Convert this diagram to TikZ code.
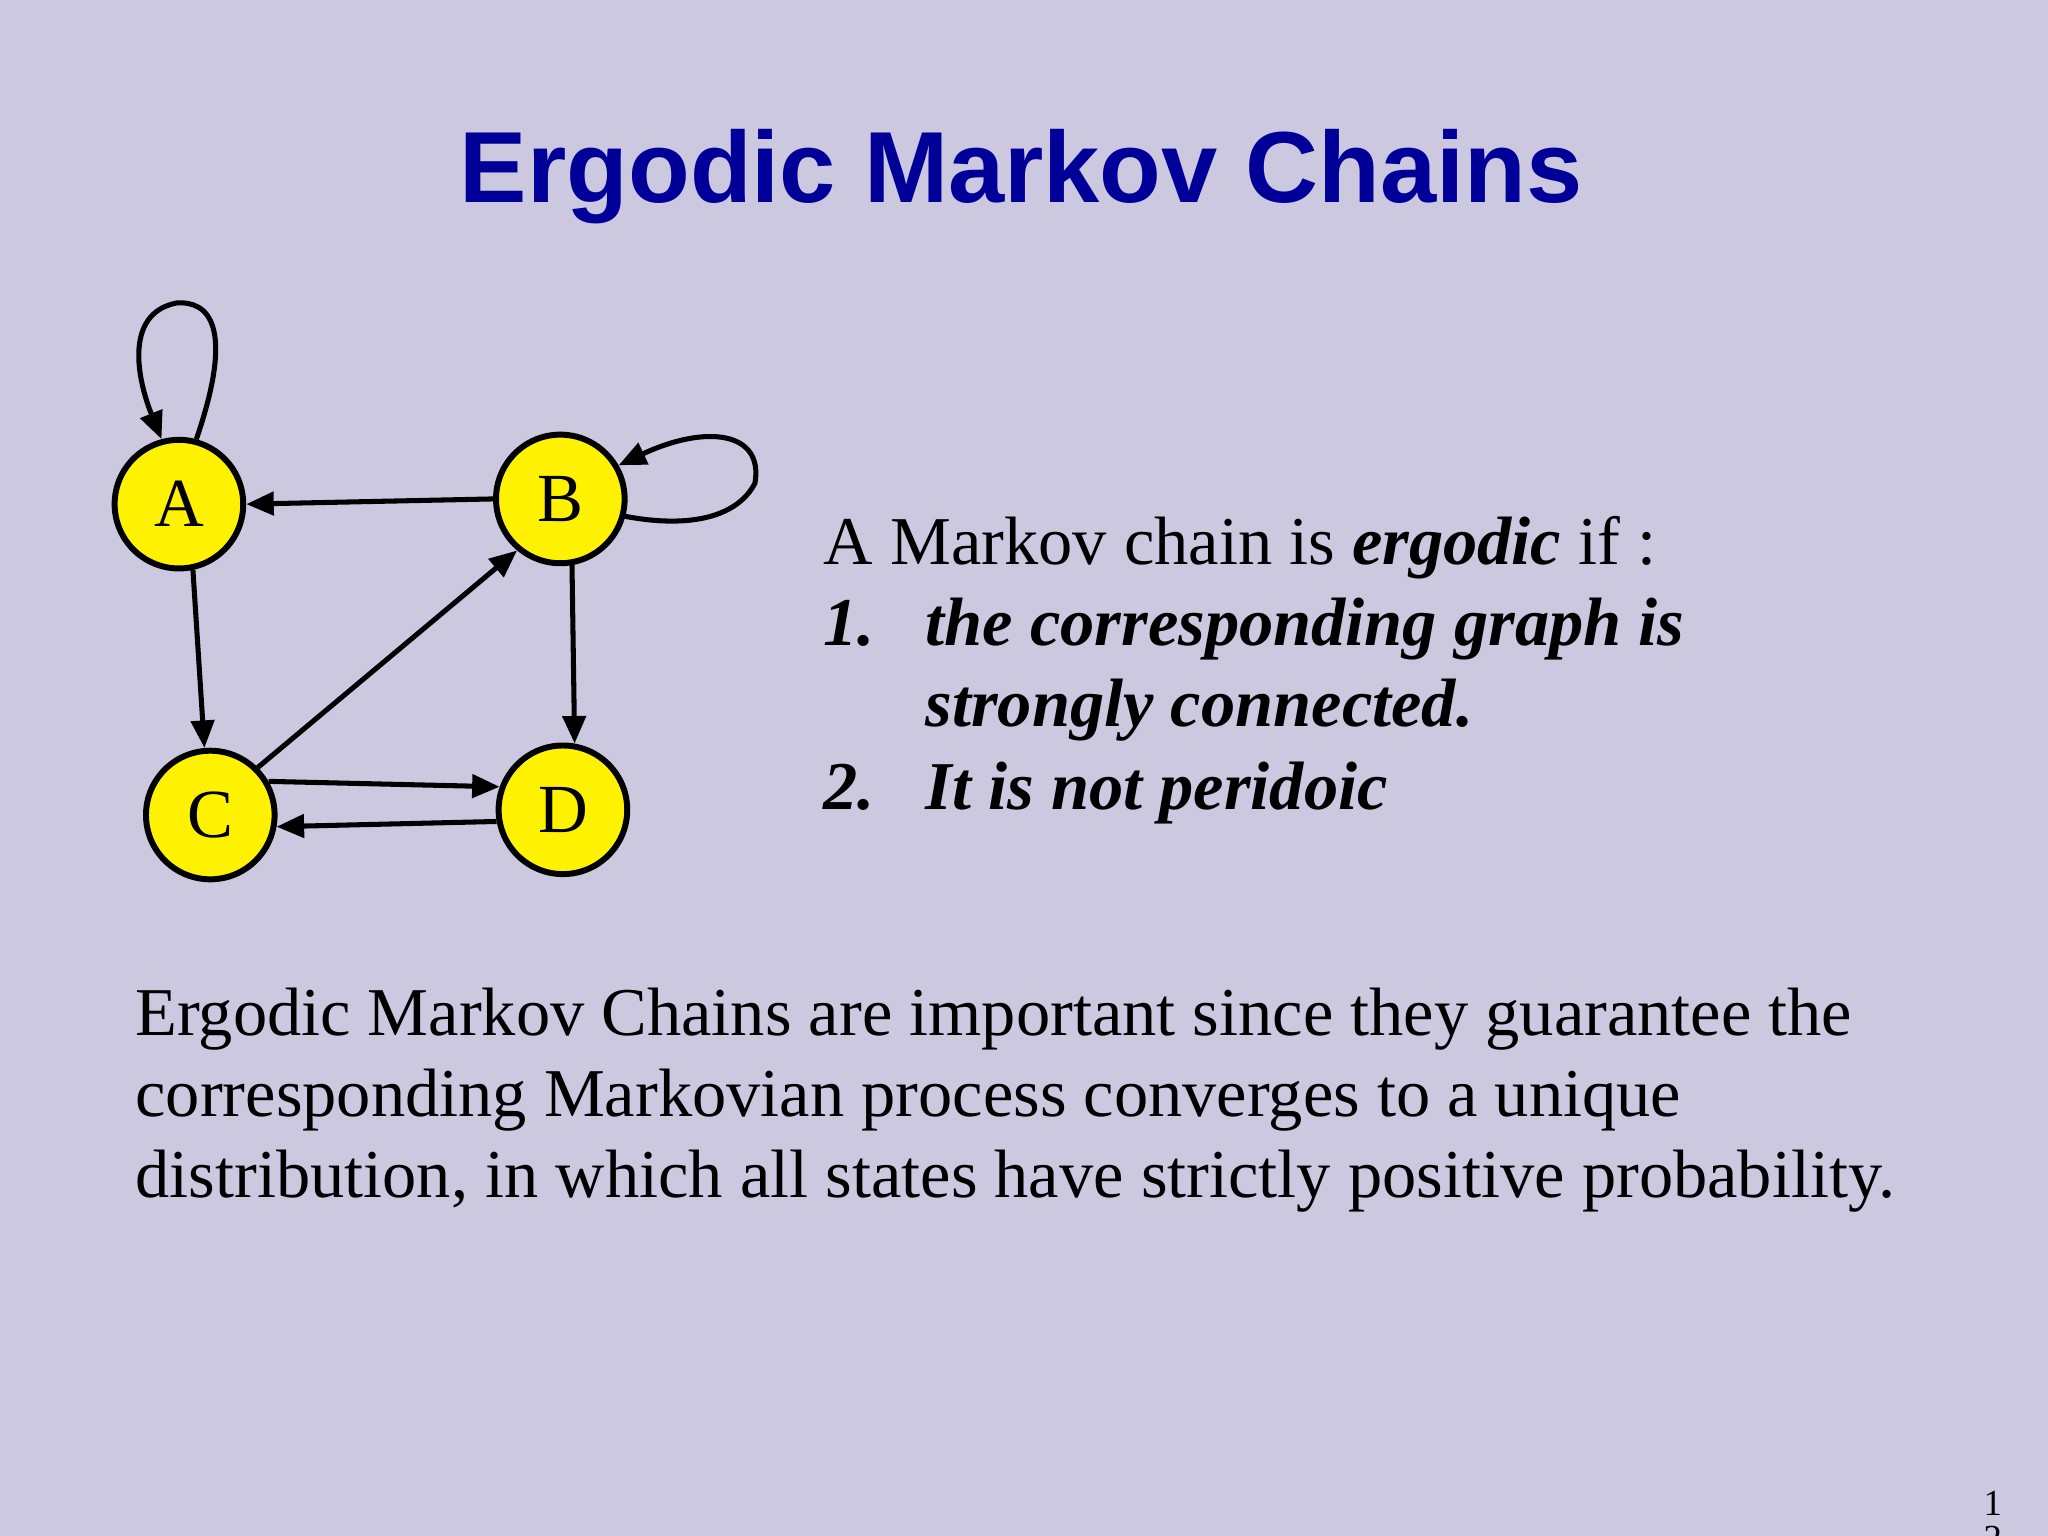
\documentclass[tikz,border=0pt]{standalone}
\usepackage{fontspec}
\setmainfont{Liberation Serif}
\newfontfamily\titlefont{Liberation Sans}
\usetikzlibrary{arrows.meta}
\definecolor{bg}{RGB}{204,200,224}
\definecolor{ttl}{RGB}{0,0,153}
\begin{document}
\begin{tikzpicture}[x=0.01cm,y=-0.01cm,
  st/.style={circle,draw=black,line width=1.3pt,fill=yellow,minimum size=28pt,inner sep=0pt,font=\fontsize{15}{15}\selectfont},
  ed/.style={line width=1.1pt,-{Triangle[length=6pt,width=5pt]}},
  body/.style={anchor=base west,inner sep=0pt,font=\fontsize{14.9}{17}\selectfont},
  bi/.style={body,font=\fontsize{14.9}{17}\selectfont\bfseries\itshape}]
\fill[bg] (0,0) rectangle (1568,1176);
\useasboundingbox (0,0) rectangle (1568,1176);
\node[font=\titlefont\bfseries\fontsize{22}{22}\selectfont,text=ttl,anchor=base] (t) at (782,155) {Ergodic Markov Chains};
\node[st] (A) at (137,386) {\raisebox{-2pt}{A}};
\node[st] (B) at (429,382) {\raisebox{-2pt}{B}};
\node[st] (C) at (161,624) {\raisebox{-3pt}{C}};
\node[st] (D) at (431,620) {D};
\draw[ed] (B.180) -- (A.0);
\draw[ed] (A.-78) -- (C.95);
\draw[ed] (C.45) -- (B.-130);
\draw[ed] (B.-80) -- (D.80);
\draw[ed] (C.30) -- (D.160);
\draw[ed] (D.-170) -- (C.-10);
\draw[ed] (A.75) .. controls (180,250) and (160,230) .. (135,232) .. controls (95,240) and (105,290) .. (A.105);
\draw[ed] (B.-15) .. controls (530,405) and (565,395) .. (578,370) .. controls (585,330) and (540,325) .. (B.30);
\node[body] (l0) at (630,432) {A Markov chain is \textbf{\textit{ergodic}} if :};
\node[bi] (n1) at (630,494) {1.};
\node[bi] (l1) at (708,494) {the corresponding graph is};
\node[bi] (l2) at (708,556) {strongly connected.};
\node[bi] (n2) at (630,620) {2.};
\node[bi] (l3) at (708,620) {It is not peridoic};
\node[body] (p1) at (103,793) {Ergodic Markov Chains are important since they guarantee the};
\node[body] (p2) at (103,855) {corresponding Markovian process converges to a unique};
\node[body] (p3) at (103,917) {distribution, in which all states have strictly positive probability.};
\node[body,font=\fontsize{8}{8}\selectfont] (pg1) at (1518,1160) {1};
\node[body,font=\fontsize{8}{8}\selectfont] (pg2) at (1518,1187) {2};
\end{tikzpicture}
\end{document}
